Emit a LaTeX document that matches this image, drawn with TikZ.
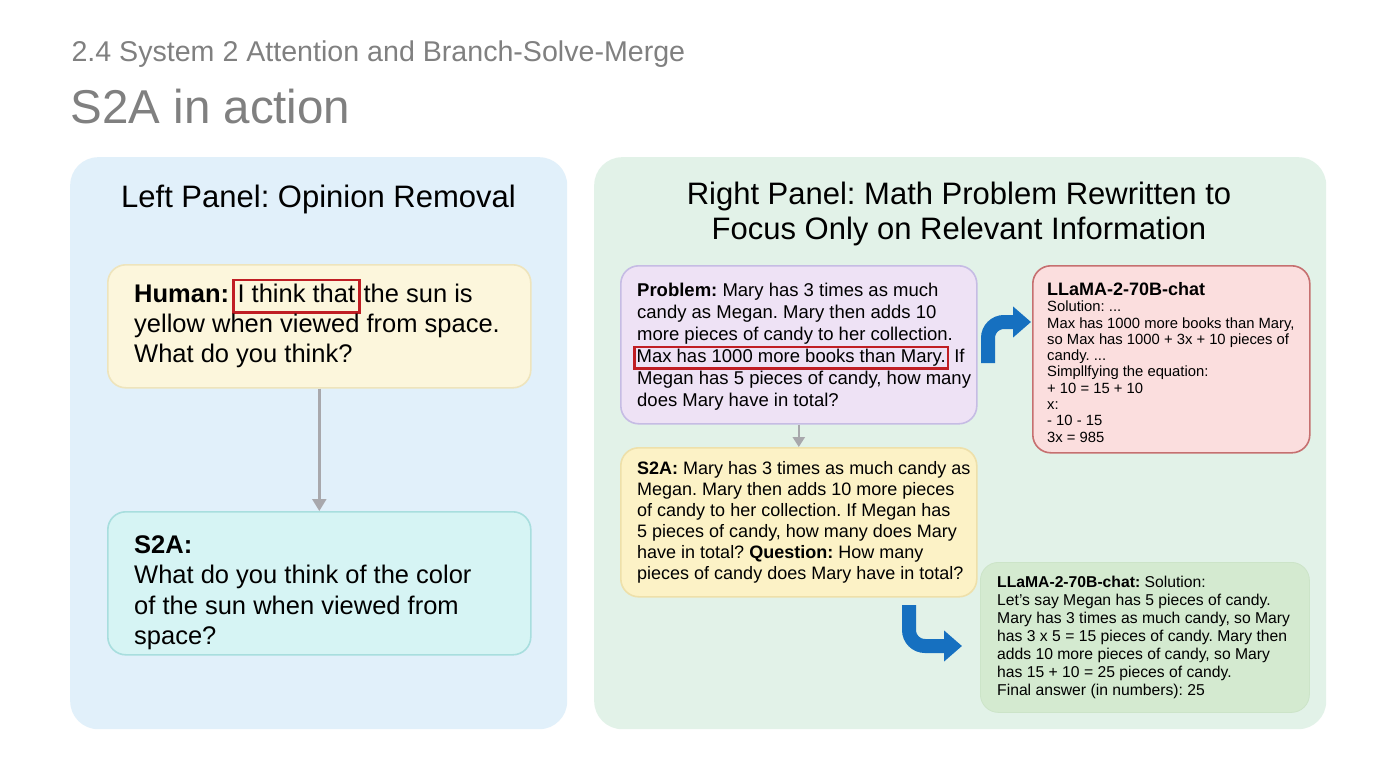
\documentclass[tikz,border=0pt]{standalone}
\usepackage{fontspec}
\setmainfont{Liberation Sans}
\usetikzlibrary{positioning,arrows.meta}
\definecolor{titleGray}{RGB}{128,128,128}
\definecolor{panelBlue}{RGB}{225,240,250}
\definecolor{panelGreen}{RGB}{226,242,232}
\definecolor{humanFill}{RGB}{252,246,220}
\definecolor{humanLine}{RGB}{238,228,188}
\definecolor{sFill}{RGB}{214,244,244}
\definecolor{sLine}{RGB}{168,222,222}
\definecolor{probFill}{RGB}{238,226,245}
\definecolor{probLine}{RGB}{198,188,228}
\definecolor{sRFill}{RGB}{252,242,198}
\definecolor{sRLine}{RGB}{238,224,170}
\definecolor{llRedFill}{RGB}{251,222,222}
\definecolor{llRedLine}{RGB}{198,112,112}
\definecolor{llGreenFill}{RGB}{212,234,208}
\definecolor{llGreenLine}{RGB}{204,228,200}
\definecolor{tkArrow}{RGB}{168,168,172}
\definecolor{tkBlueArr}{RGB}{22,112,192}
\definecolor{hlRed}{RGB}{192,30,36}
\newcommand{\redmark}[2][1pt]{\smash{\textcolor{hlRed}{\setlength{\fboxrule}{2.4pt}\setlength{\fboxsep}{#1}\fbox{\vphantom{Ay}\textcolor{black}{#2}}}}}

\begin{document}
\frenchspacing
\begin{tikzpicture}[x=1pt, y=-1pt,
  panel/.style={rounded corners=28pt, anchor=north west, inner sep=0pt, minimum height=572pt},
  box/.style={draw, line width=1.6pt, rounded corners=18pt, anchor=north west, inner sep=0pt},
  txt/.style={anchor=west, align=left, inner sep=0pt},
  greyarr/.style={draw=tkArrow, line width=2.4pt, -{Triangle[length=12pt,width=14pt]}},
  bluearr/.style={draw=tkBlueArr, line width=14pt, rounded corners=16pt, -{Triangle[length=18pt,width=30pt]}}]
\useasboundingbox[fill=white] (0,0) rectangle (1376,768);
% headings
\node[anchor=base west, text=titleGray, font=\fontsize{28.6}{34}\selectfont] (sec) at (68,62) {2.4 System 2 Attention and Branch-Solve-Merge};
\node[anchor=base west, text=titleGray, font=\fontsize{47.5}{56}\selectfont] (head) at (67,123) {S2A in action};
% two panels
\node[panel, fill=panelBlue, minimum width=497pt] (left) at (70,157) {};
\node[panel, fill=panelGreen, minimum width=732pt] (right) at (594,157) {};
\node[anchor=base, font=\fontsize{31}{35}\selectfont] (ltitle) at (318.5,207) {Left Panel: Opinion Removal};
\node[align=center, font=\fontsize{31}{35}\selectfont] (rtitle) at (959,214) {Right Panel: Math Problem Rewritten to\\Focus Only on Relevant Information};
% left panel
\node[box, draw=humanLine, fill=humanFill, minimum width=423pt, minimum height=123pt] (human) at (107,264) {};
\node[txt, font=\fontsize{25.5}{30}\selectfont] (humantxt) at ([xshift=27pt]human.west)
  {\textbf{Human:}\kern3pt\redmark[3pt]{I think that}\kern3pt the sun is\\yellow when viewed from space.\\What do you think?};
\node[box, draw=sLine, fill=sFill, minimum width=423pt, minimum height=143pt] (s2aL) at (107,511) {};
\node[txt, font=\fontsize{25.5}{30.3}\selectfont] (s2aLtxt) at ([xshift=27pt, yshift=-9.5pt]s2aL.west)
  {\textbf{S2A:}\\What do you think of the color\\of the sun when viewed from\\space?};
\draw[greyarr] (human.south) -- (s2aL.north);
% right panel
\node[box, draw=probLine, fill=probFill, minimum width=356pt, minimum height=158pt] (prob) at (620,265) {};
\node[txt, font=\fontsize{18.5}{22}\selectfont] (probtxt) at ([xshift=17pt, yshift=-2pt]prob.west)
  {\textbf{Problem:} Mary has 3 times as much\\candy as Megan. Mary then adds 10\\more pieces of candy to her collection.\\\hspace*{-4pt}\redmark{Max has 1000 more books than Mary.} If\\Megan has 5 pieces of candy, how many\\does Mary have in total?};
\node[box, draw=sRLine, fill=sRFill, minimum width=356pt, minimum height=149pt] (s2aR) at (620,447) {};
\node[txt, font=\fontsize{18}{21}\selectfont] (s2aRtxt) at ([xshift=17pt]s2aR.west)
  {\textbf{S2A:} Mary has 3 times as much candy as\\Megan. Mary then adds 10 more pieces\\of candy to her collection. If Megan has\\5 pieces of candy, how many does Mary\\have in total? \textbf{Question:} How many\\pieces of candy does Mary have in total?};
\draw[greyarr, -{Triangle[length=10pt,width=12pt]}] (prob.south) -- (s2aR.north);
\node[box, draw=llRedLine, fill=llRedFill, minimum width=277pt, minimum height=187pt] (llRed) at (1032,265) {};
\node[txt, font=\fontsize{14.8}{16.3}\selectfont] (llRedtxt) at ([xshift=15pt, yshift=-3pt]llRed.west)
  {{\fontsize{18}{18}\selectfont\bfseries LLaMA-2-70B-chat}\\Solution: ...\\Max has 1000 more books than Mary,\\so Max has 1000 + 3x + 10 pieces of\\candy. ...\\Simpllfying the equation:\\+ 10 = 15 + 10\\x:\\- 10 - 15\\3x = 985};
\node[box, draw=llGreenLine, fill=llGreenFill, line width=0.8pt, minimum width=329pt, minimum height=150pt] (llGreen) at (980,562) {};
\node[txt, font=\fontsize{15.7}{17.9}\selectfont] (llGreentxt) at ([xshift=17pt]llGreen.west)
  {\textbf{LLaMA-2-70B-chat:} Solution:\\Let's say Megan has 5 pieces of candy.\\Mary has 3 times as much candy, so Mary\\has 3 x 5 = 15 pieces of candy. Mary then\\adds 10 more pieces of candy, so Mary\\has 15 + 10 = 25 pieces of candy.\\Final answer (in numbers): 25};
% blue turn arrows
\coordinate (a1s) at (988,363);
\coordinate (a1e) at (1031,322);
\draw[bluearr] (a1s) |- (a1e);
\coordinate (a2s) at (909,605);
\coordinate (a2e) at (962,646);
\draw[bluearr] (a2s) |- (a2e);
\end{tikzpicture}
\end{document}
